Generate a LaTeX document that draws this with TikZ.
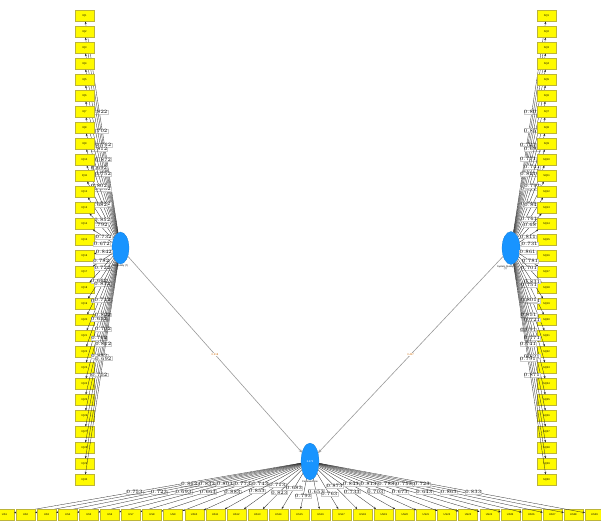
\documentclass[tikz,border=0pt]{standalone}
\usepackage{fontspec}
\setmainfont{Liberation Sans}
\usetikzlibrary{shapes.geometric,arrows.meta}
\definecolor{plsblue}{RGB}{24,148,255}
\definecolor{plsyellow}{RGB}{255,250,0}

\begin{document}
\begin{tikzpicture}[x=1pt, y=-1pt,
    item/.style={draw=yellow!70!black, line width=0.2pt, fill=plsyellow, minimum width=19pt, minimum height=11pt, inner sep=0pt, font=\fontsize{2.6}{3}\selectfont},
    latent/.style={ellipse, fill=plsblue, draw=plsblue!80!black, line width=0.2pt, inner sep=0pt, text=white, font=\fontsize{2.6}{3}\selectfont},
    load/.style={draw=black!85, line width=0.3pt, -{Stealth[length=2.4pt,width=2pt]}},
    val/.style={fill=white, draw=gray!40, line width=0.1pt, inner sep=0.3pt, font=\fontsize{1.9}{2.2}\selectfont},
    inner/.style={draw=gray!80, line width=0.6pt, -{Stealth[length=3.5pt,width=3pt]}},
    coef/.style={fill=white, inner sep=0.5pt, text=orange!80!black, font=\fontsize{2.6}{3}\selectfont},
    lbl/.style={inner sep=0.5pt, align=center, font=\fontsize{2.4}{2.8}\selectfont}]
    \useasboundingbox (0,0) rectangle (601,520);
    \node[latent, minimum width=17pt, minimum height=32pt] (IQ) at (120.5,248) {};
    \node[latent, minimum width=18pt, minimum height=33pt] (SQ) at (511,248) {};
    \node[latent, minimum width=18pt, minimum height=37pt] (US) at (310,461.5) {0.472};
    \node[lbl, below right, xshift=-9pt] (IQlbl) at (IQ.south) {Info Quality (?)};
    \node[lbl, below left, xshift=3pt] (SQlbl) at (SQ.south) {System Quality\\(?)};
    \node[lbl, below] (USlbl) at (US.south) {Perceived Use};
    \foreach \i in {1,...,30} {
        \node[item] (IQ\i) at (84.5,{16+16*(\i-1)}) {IQ\i};
        \node[item] (SQ\i) at (546.5,{16+16*(\i-1)}) {SQ\i};
        \pgfmathsetmacro\lv{0.652+mod(\i*17,23)/100}
        \pgfmathsetmacro\rv{0.671+mod(\i*13,21)/100}
        \pgfmathsetmacro\ps{0.45+0.12*mod(\i,2)}
        \draw[load] (IQ) -- node[val, pos=\ps] {\pgfmathprintnumber[fixed,precision=3]{\lv}} (IQ\i);
        \draw[load] (SQ) -- node[val, pos=\ps] {\pgfmathprintnumber[fixed,precision=3]{\rv}} (SQ\i);
    }
    \foreach \k in {1,...,29} {
        \node[item] (US\k) at ({4.5+21.07*(\k-1)},514.5) {US\k};
        \pgfmathsetmacro\bv{0.643+mod(\k*11,25)/100}
        \pgfmathsetmacro\ps{0.42+0.16*mod(\k,2)}
        \draw[load] (US) -- node[val, pos=\ps] {\pgfmathprintnumber[fixed,precision=3]{\bv}} (US\k);
    }
    \draw[inner] (IQ) -- node[coef] {0.318} (US);
    \draw[inner] (SQ) -- node[coef] {0.427} (US);
\end{tikzpicture}
\end{document}
